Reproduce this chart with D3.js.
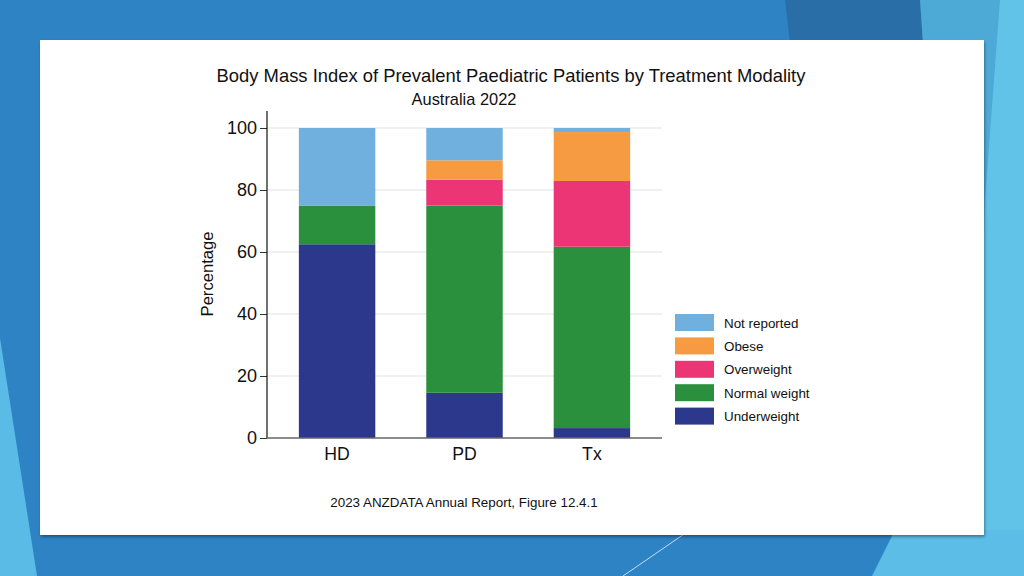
<!DOCTYPE html>
<html><head><meta charset="utf-8">
<script src="https://cdn.jsdelivr.net/npm/d3@7"></script>
<style>html,body{margin:0;padding:0;overflow:hidden;background:#2E83C4;}svg{display:block;}</style>
</head><body>
<svg id="c" width="1024" height="576"></svg>
<script>
const categories = ["HD", "PD", "Tx"];
const seriesNames = ["Underweight", "Normal weight", "Overweight", "Obese", "Not reported"];
const underweight = [62.5, 14.58, 3.2];
const normalWeight = [12.5, 60.42, 58.5];
const overweight = [0, 8.33, 21.2];
const obese = [0, 6.25, 15.8];
const notReported = [25, 10.42, 1.3];
const yTicks = [0, 20, 40, 60, 80, 100];
const colors = ["#2B388C", "#2A903D", "#EC3575", "#F79B42", "#70B0DE"];
const titleText = "Body Mass Index of Prevalent Paediatric Patients by Treatment Modality";
const subtitleText = "Australia 2022";
const yLabel = "Percentage";
const footerText = "2023 ANZDATA Annual Report, Figure 12.4.1";

const svg = d3.select("#c");
const font = "'Liberation Sans', Arial, sans-serif";

// background decorations
svg.append("rect").attr("width",1024).attr("height",576).attr("fill","#2E83C4");
svg.append("polygon").attr("points","785,0 920,0 940,300 820,300").attr("fill","#2A6EA8");
svg.append("polygon").attr("points","920,0 1024,0 1024,576 960,576").attr("fill","#4DAAD7");
svg.append("polygon").attr("points","1000,0 1024,0 1024,576 975,576 985,200").attr("fill","#62C3E8");
svg.append("polygon").attr("points","895,530 1024,530 1024,576 872,576").attr("fill","#5CBDE7");
svg.append("polygon").attr("points","0,338 37,576 0,576").attr("fill","#5ABBE6");
svg.append("line").attr("x1",623).attr("y1",576).attr("x2",690).attr("y2",530).attr("stroke","#BFE0F4").attr("stroke-width",1);

// panel with shadow
const defs = svg.append("defs");
const f = defs.append("filter").attr("id","sh").attr("x","-5%").attr("y","-5%").attr("width","110%").attr("height","110%");
f.append("feDropShadow").attr("dx",1).attr("dy",2).attr("stdDeviation",1.5).attr("flood-color","#000").attr("flood-opacity",0.35);
svg.append("rect").attr("x",40).attr("y",40).attr("width",944).attr("height",495).attr("fill","#fff").attr("filter","url(#sh)");

const x0 = 267, x1 = 662, yTop = 128, yBot = 438;
const x = d3.scaleBand().domain(categories).range([x0, x1]).paddingInner(0.4).paddingOuter(0.25);
const y = d3.scaleLinear().domain([0, 100]).range([yBot, yTop]);

// gridlines
svg.append("g").selectAll("line").data(yTicks.filter(d=>d>0)).join("line")
  .attr("x1", x0).attr("x2", x1).attr("y1", d=>y(d)).attr("y2", d=>y(d))
  .attr("stroke","#EBEBEB").attr("stroke-width",1.5);

// stacked data
const rows = categories.map((c,i)=>({cat:c, "Underweight":underweight[i], "Normal weight":normalWeight[i], "Overweight":overweight[i], "Obese":obese[i], "Not reported":notReported[i]}));
const stack = d3.stack().keys(seriesNames)(rows);
svg.append("g").selectAll("g").data(stack).join("g").attr("fill",(d,i)=>colors[i])
  .selectAll("rect").data(d=>d).join("rect")
  .attr("x", d=>x(d.data.cat)).attr("width", x.bandwidth())
  .attr("y", d=>y(d[1])).attr("height", d=>Math.max(0, y(d[0])-y(d[1])));

// y axis
const ya = svg.append("g").attr("transform",`translate(${x0},0)`)
  .call(d3.axisLeft(y).tickValues(yTicks).tickSize(7).tickPadding(3));
ya.select(".domain").remove();
ya.selectAll(".tick line").attr("stroke","#333");
ya.selectAll("text").attr("font-family",font).attr("font-size",18).attr("fill","#111");
svg.append("line").attr("x1",x0).attr("x2",x0).attr("y1",111).attr("y2",yBot).attr("stroke","#111").attr("stroke-width",1.2);

// x axis
const xa = svg.append("g").attr("transform",`translate(0,${yBot})`)
  .call(d3.axisBottom(x).tickSize(0).tickPadding(9));
xa.select(".domain").remove();
xa.selectAll("text").attr("font-family",font).attr("font-size",17.7).attr("fill","#111");
svg.append("line").attr("x1",x0).attr("x2",x1).attr("y1",yBot).attr("y2",yBot).attr("stroke","#666").attr("stroke-width",1.5);

// titles
svg.append("text").attr("x",511).attr("y",81.5).attr("text-anchor","middle").attr("font-family",font).attr("font-size",18.4).attr("fill","#111").text(titleText);
svg.append("text").attr("x",464).attr("y",104.5).attr("text-anchor","middle").attr("font-family",font).attr("font-size",16.4).attr("fill","#111").text(subtitleText);
svg.append("text").attr("transform","translate(213,274) rotate(-90)").attr("text-anchor","middle").attr("font-family",font).attr("font-size",16.6).attr("fill","#111").text(yLabel);
svg.append("text").attr("x",464).attr("y",507).attr("text-anchor","middle").attr("font-family",font).attr("font-size",13.4).attr("fill","#111").text(footerText);

// legend (top to bottom: reverse order)
const legendItems = seriesNames.map((n,i)=>({name:n, color:colors[i]})).reverse();
const lg = svg.append("g").selectAll("g").data(legendItems).join("g")
  .attr("transform",(d,i)=>`translate(675,${314 + i*23.4})`);
lg.append("rect").attr("width",39).attr("height",17).attr("fill",d=>d.color);
lg.append("text").attr("x",49).attr("y",13.5).attr("font-family",font).attr("font-size",13.4).attr("fill","#111").text(d=>d.name);
</script>
</body></html>
